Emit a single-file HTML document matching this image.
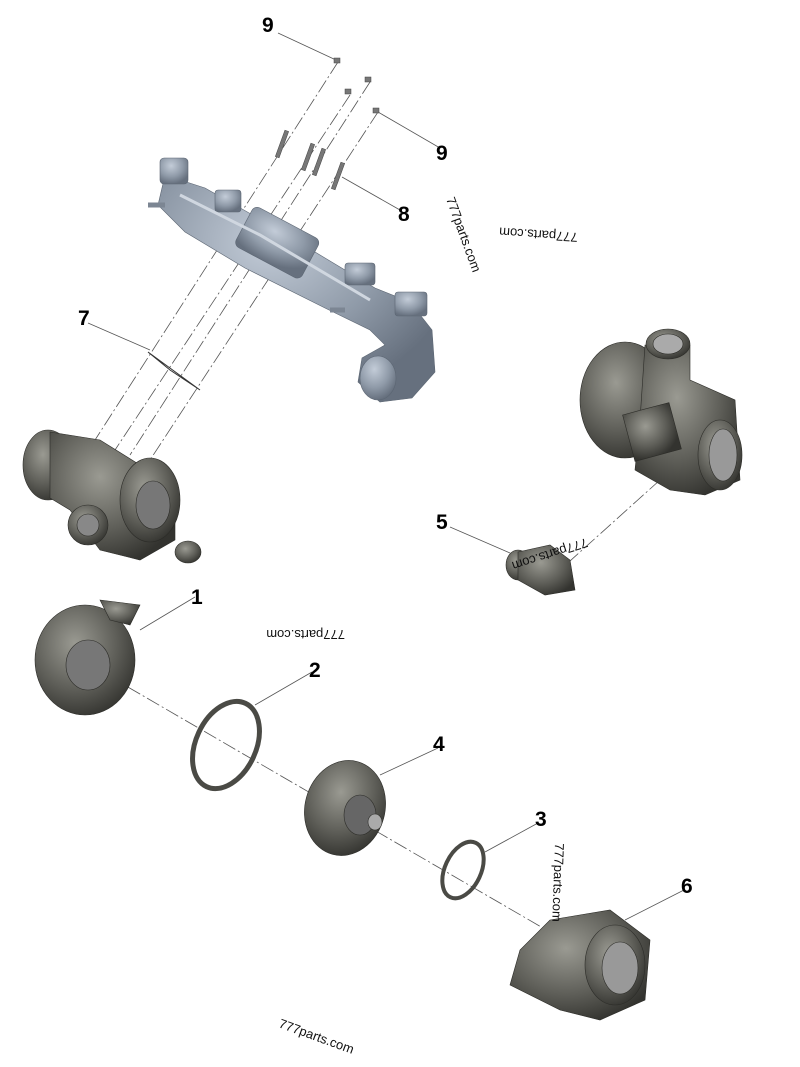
<!DOCTYPE html>
<html><head><meta charset="utf-8"><style>
html,body{margin:0;padding:0;background:#fff}
svg{display:block}
.n{font:bold 21px "Liberation Sans",sans-serif;fill:#000}
.w{font:13px "Liberation Sans",sans-serif;fill:#111}
.l{stroke:#555;stroke-width:0.8;fill:none}
.d{stroke:#555;stroke-width:0.8;fill:none;stroke-dasharray:14 3 2 3}
</style></head><body>
<svg width="800" height="1067" viewBox="0 0 800 1067" xmlns="http://www.w3.org/2000/svg">
<defs>
<radialGradient id="g" cx="40%" cy="35%" r="70%"><stop offset="0" stop-color="#9a9a92"/><stop offset="0.6" stop-color="#5e5e58"/><stop offset="1" stop-color="#33332f"/></radialGradient>
<radialGradient id="b" cx="40%" cy="30%" r="70%"><stop offset="0" stop-color="#c3ccd8"/><stop offset="0.6" stop-color="#8f9aa8"/><stop offset="1" stop-color="#66707e"/></radialGradient>
</defs>
<path class="l" d="M278 33 L336 60 M440 148 L378 112 M400 210 L342 177 M88 323 L150 350 M195 597 L140 630 M312 672 L255 705 M438 748 L380 775 M538 823 L485 852 M684 890 L625 920 M450 527 L510 553"/>
<path class="d" d="M338 62 L95 440 M350 95 L115 450 M370 82 L130 455 M378 112 L150 460"/>
<path class="d" d="M90 665 L555 935 M660 480 L560 570"/>
<path d="M148 352 L200 390 L170 370 Z" stroke="#333" stroke-width="1" fill="none"/>
<g fill="#777" stroke="#444" stroke-width="0.5">
<rect x="334" y="58" width="6" height="5"/><rect x="345" y="89" width="6" height="5"/><rect x="365" y="77" width="6" height="5"/><rect x="373" y="108" width="6" height="5"/>
<rect x="280" y="130" width="4" height="28" transform="rotate(20 282 144)"/>
<rect x="306" y="143" width="4" height="28" transform="rotate(20 308 157)"/>
<rect x="317" y="148" width="4" height="28" transform="rotate(20 319 162)"/>
<rect x="336" y="162" width="4" height="28" transform="rotate(20 338 176)"/>
</g>
<g fill="url(#b)" stroke="#5c6673" stroke-width="0.6">
<path d="M165 175 L205 188 L265 222 L325 258 L375 288 L410 302 L432 330 L435 372 L412 398 L380 402 L358 382 L362 358 L385 345 L370 330 L325 308 L245 268 L185 232 L158 205 Z"/>
<rect x="160" y="158" width="28" height="26" rx="4"/>
<rect x="215" y="190" width="26" height="22" rx="3"/>
<rect x="240" y="220" width="75" height="45" rx="6" transform="rotate(28 277 242)"/>
<rect x="345" y="263" width="30" height="22" rx="3"/>
<rect x="395" y="292" width="32" height="24" rx="3"/>
<ellipse cx="378" cy="378" rx="18" ry="22"/>
<path d="M148 205 L165 205 M330 310 L345 310" stroke="#7c8693" stroke-width="5"/>
<path d="M180 195 L260 235 L370 300" stroke="#d0d7e0" stroke-width="3" fill="none"/>
</g>
<g fill="url(#g)" stroke="#2c2c28" stroke-width="0.6">
<ellipse cx="48" cy="465" rx="25" ry="35"/>
<path d="M50 432 L100 440 L140 465 L175 490 L175 540 L140 560 L100 550 L70 510 L50 498 Z"/>
<ellipse cx="150" cy="500" rx="30" ry="42"/>
<ellipse cx="153" cy="505" rx="17" ry="24" fill="#777"/>
<circle cx="88" cy="525" r="20"/><circle cx="88" cy="525" r="11" fill="#888"/>
<ellipse cx="188" cy="552" rx="13" ry="11"/>
</g>
<g fill="url(#g)" stroke="#2c2c28" stroke-width="0.6">
<ellipse cx="625" cy="400" rx="45" ry="58"/>
<path d="M645 345 L690 345 L690 380 L735 400 L740 480 L705 495 L670 490 L635 470 L640 420 Z"/>
<ellipse cx="668" cy="344" rx="22" ry="15"/><ellipse cx="668" cy="344" rx="15" ry="10" fill="#aaa"/>
<ellipse cx="720" cy="455" rx="22" ry="35"/><ellipse cx="723" cy="455" rx="14" ry="26" fill="#999"/>
<rect x="628" y="408" width="48" height="48" transform="rotate(-15 652 432)"/>
</g>
<g fill="url(#g)" stroke="#2c2c28" stroke-width="0.6">
<ellipse cx="518" cy="565" rx="12" ry="15"/>
<path d="M518 552 L550 545 L570 560 L575 590 L545 595 L518 580 Z"/>
</g>
<g fill="url(#g)" stroke="#2c2c28" stroke-width="0.6">
<ellipse cx="85" cy="660" rx="50" ry="55"/>
<path d="M100 600 L140 605 L130 625 L110 620 Z"/>
<ellipse cx="88" cy="665" rx="22" ry="25" fill="#777"/>
</g>
<ellipse cx="226" cy="745" rx="30" ry="46" transform="rotate(25 226 745)" fill="none" stroke="#4a4a45" stroke-width="5"/>
<g fill="url(#g)" stroke="#2c2c28" stroke-width="0.6">
<ellipse cx="345" cy="808" rx="40" ry="48" transform="rotate(15 345 808)"/>
<ellipse cx="360" cy="815" rx="16" ry="20" fill="#666"/>
<ellipse cx="375" cy="822" rx="7" ry="8" fill="#aaa"/>
</g>
<ellipse cx="463" cy="870" rx="18" ry="30" transform="rotate(25 463 870)" fill="none" stroke="#4a4a45" stroke-width="4"/>
<g fill="url(#g)" stroke="#2c2c28" stroke-width="0.6">
<path d="M550 920 L610 910 L650 940 L645 1000 L600 1020 L560 1010 L510 985 L520 950 Z"/>
<ellipse cx="615" cy="965" rx="30" ry="40"/><ellipse cx="620" cy="968" rx="18" ry="26" fill="#999"/>
</g>
<text class="n" x="262" y="32">9</text>
<text class="n" x="436" y="160">9</text>
<text class="n" x="398" y="221">8</text>
<text class="n" x="78" y="325">7</text>
<text class="n" x="191" y="604">1</text>
<text class="n" x="309" y="677">2</text>
<text class="n" x="433" y="751">4</text>
<text class="n" x="535" y="826">3</text>
<text class="n" x="681" y="893">6</text>
<text class="n" x="436" y="529">5</text>
<text class="w" transform="translate(345 630) rotate(180)">777parts.com</text>
<text class="w" transform="translate(578 233) rotate(184)">777parts.com</text>
<text class="w" transform="translate(446 199) rotate(70)">777parts.com</text>
<text class="w" transform="translate(586 538) rotate(162)">777parts.com</text>
<text class="w" transform="translate(555 843) rotate(92)">777parts.com</text>
<text class="w" transform="translate(278 1027) rotate(20)">777parts.com</text>
</svg>
</body></html>
